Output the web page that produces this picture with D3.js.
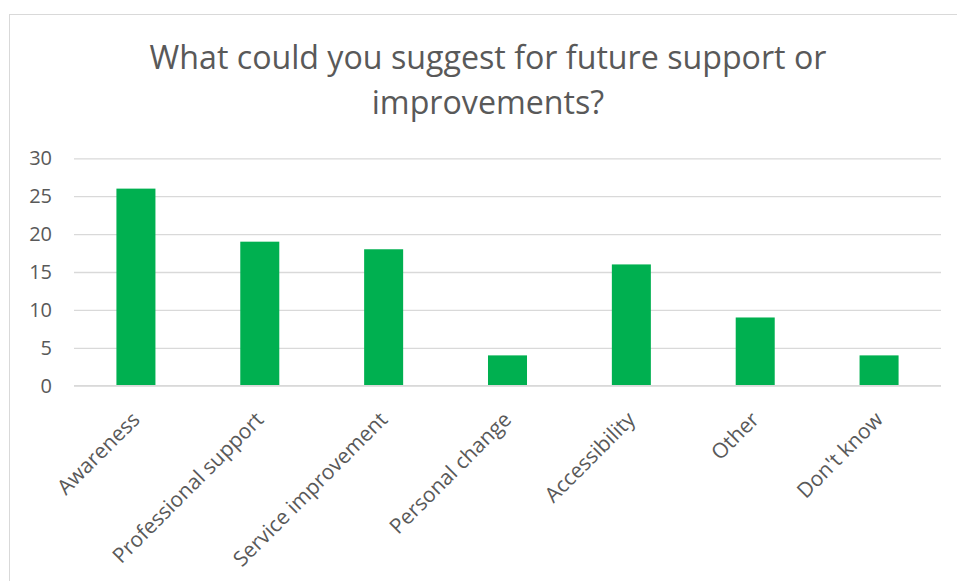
<!DOCTYPE html>
<html>
<head>
<meta charset="utf-8">
<script src="https://cdn.jsdelivr.net/npm/d3@7/dist/d3.min.js"></script>
<style>
  html, body { margin: 0; padding: 0; background: #fff; }
  svg { display: block; }
  text { font-family: "Open Sans", "Noto Sans", sans-serif; fill: #595959; }
</style>
</head>
<body>
<svg id="chart" width="957" height="581"></svg>
<script>
// Survey responses: suggestions for future support or improvements
const titleLines = ["What could you suggest for future support or", "improvements?"];
const categories = ["Awareness", "Professional support", "Service improvement", "Personal change", "Accessibility", "Other", "Don't know"];
const counts = [26, 19, 18, 4, 16, 9, 4];
const yTicks = [0, 5, 10, 15, 20, 25, 30];

const svg = d3.select("#chart");

// chart frame (extends past the right and bottom edges)
svg.append("rect")
  .attr("x", 9.5).attr("y", 14.5)
  .attr("width", 1000).attr("height", 1000)
  .attr("fill", "none")
  .attr("stroke", "#d9d9d9")
  .attr("stroke-width", 1);

const plot = { left: 74, right: 941, top: 158.3, bottom: 385.7 };

const x = d3.scaleBand()
  .domain(categories)
  .range([plot.left, plot.right])
  .paddingInner(0.685)
  .paddingOuter(0.3425);

const y = d3.scaleLinear()
  .domain([0, 30])
  .range([plot.bottom, plot.top]);

// title
const title = svg.append("text")
  .attr("text-anchor", "middle")
  .style("font-size", "31px");
titleLines.forEach((line, i) => {
  title.append("tspan")
    .attr("x", 488)
    .attr("y", 69 + i * 45)
    .text(line);
});
// fit first line to its width
const first = title.select("tspan").node();
const len = first.getComputedTextLength();
const targetWidth = 677;
title.style("font-size", (31 * targetWidth / len).toFixed(2) + "px");

// gridlines + value labels
const yAxis = d3.axisLeft(y)
  .tickValues(yTicks)
  .tickSize(-(plot.right - plot.left))
  .tickPadding(22);

const gy = svg.append("g")
  .attr("transform", `translate(${plot.left},0)`)
  .call(yAxis);
gy.select(".domain").remove();
gy.selectAll(".tick line")
  .attr("stroke", "#d9d9d9")
  .attr("stroke-width", 1.3);
gy.selectAll(".tick text")
  .attr("fill", "#595959")
  .style("font-size", "20px")
  .style("font-family", "\"Open Sans\", sans-serif");

// bars
svg.append("g")
  .selectAll("rect")
  .data(categories.map((c, i) => ({ c, v: counts[i] })))
  .join("rect")
  .attr("x", d => x(d.c))
  .attr("y", d => y(d.v))
  .attr("width", x.bandwidth())
  .attr("height", d => y(0) - y(d.v))
  .attr("fill", "#00b050");

// category axis with rotated labels
const xAxis = d3.axisBottom(x).tickSize(0).tickPadding(0);
const gx = svg.append("g")
  .attr("transform", `translate(0,${plot.bottom})`)
  .call(xAxis);
gx.select(".domain").remove();
gx.selectAll(".tick text")
  .attr("fill", "#595959")
  .style("font-size", "21px")
  .style("font-family", "\"Open Sans\", sans-serif")
  .attr("text-anchor", "end")
  .attr("dy", "0.75em")
  .attr("y", 0)
  .attr("transform", "translate(-6,24) rotate(-45)");

// category axis line along zero
svg.append("line")
  .attr("x1", plot.left).attr("x2", plot.right)
  .attr("y1", y(0)).attr("y2", y(0))
  .attr("stroke", "#d9d9d9")
  .attr("stroke-width", 1.3);
</script>
</body>
</html>
